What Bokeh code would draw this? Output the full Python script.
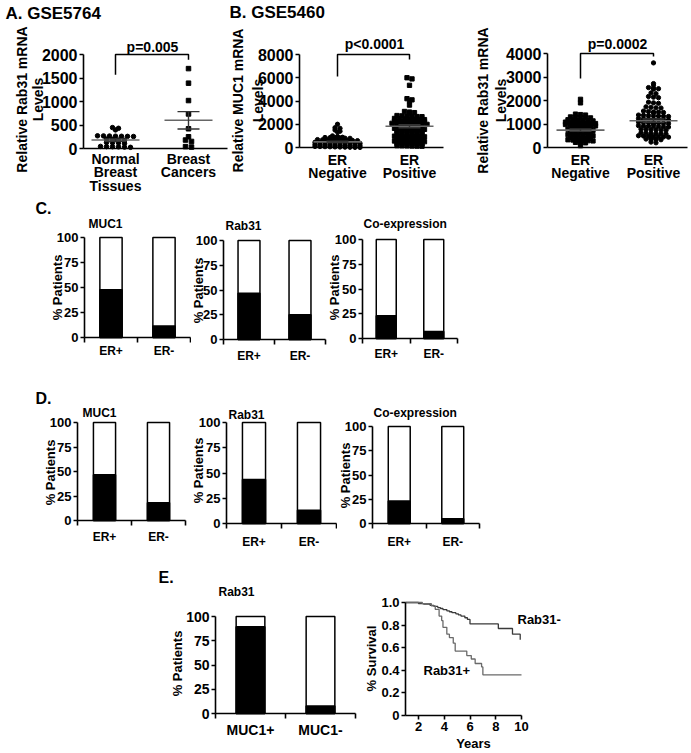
import numpy as np
from bokeh.plotting import figure
from bokeh.models import Range1d, FixedTicker, Label
from bokeh.layouts import row, column
from bokeh.embed import file_html
from bokeh.resources import INLINE

FONT = "Liberation Sans"

# ---------------- A. GSE5764 ----------------
a_title = "A.  GSE5764"
a_ylabel = ["Relative Rab31 mRNA", "Levels"]
a_categories = ["Normal\nBreast\nTissues", "Breast\nCancers"]
a_yticks = [0, 500, 1000, 1500, 2000]
a_normal = [445, 430, 396, 270, 268, 265, 262, 260, 258, 255, 200, 195, 180, 175,
            130, 125, 120, 110, 45, 40, 38, 35, 30, 25]
a_cancer = [1700, 1390, 1020, 735, 420, 250, 180, 150, 40, 30]
a_mean = [180, 600]
a_sem = [25, 185]
a_pvalue = "p=0.005"
a_bracket = [1570, 2000, 2000, 1890]

# ---------------- B. GSE5460 ----------------
b_title = "B.  GSE5460"
b_categories = ["ER\nNegative", "ER\nPositive"]
b1_ylabel = ["Relative MUC1 mRNA", "Levels"]
b1_yticks = [0, 2000, 4000, 6000, 8000]
b1_neg = [2000, 1700, 1650, 1500, 1400, 1330, 1000, 950, 880, 860, 850, 830, 820, 800, 790,
          680, 660, 650, 640, 630, 620, 610, 600, 590, 450, 440, 430, 420, 410, 400, 390,
          380, 370, 360, 250, 240, 230, 220, 210, 200, 190, 180, 170, 160, 90, 80, 70, 60,
          50, 40, 30, 20, 10, 5]
b1_pos = [6000, 5900, 5350, 4200, 4100, 4000, 3650, 3100, 3050, 3000, 2950,
          2750, 2720, 2700, 2680, 2660, 2650, 2500, 2480, 2460, 2450, 2440, 2420, 2400,
          2280, 2260, 2250, 2240, 2230, 2220, 2210, 2080, 2060, 2050, 2040, 2030, 2020, 2000, 1990,
          1880, 1860, 1850, 1840, 1830, 1820, 1650, 1630, 1620, 1600, 1590, 1580, 1560,
          1420, 1400, 1390, 1380, 1370, 1360, 1220, 1210, 1200, 1190, 1180, 1170,
          980, 970, 960, 950, 940, 930, 920, 780, 770, 760, 750, 740, 730,
          560, 550, 540, 530, 520, 510, 500, 360, 350, 340, 330, 320, 310,
          160, 150, 140, 130, 120, 110]
b1_mean = [480, 1830]
b1_sem = [60, 130]
b1_pvalue = "p<0.0001"
b1_bracket = [6100, 8000, 8000, 7570]

b2_ylabel = ["Relative Rab31 mRNA", "Levels"]
b2_yticks = [0, 1000, 2000, 3000, 4000]
b2_neg = [2050, 1900, 1420, 1400, 1380, 1300, 1290, 1280, 1270, 1260, 1180, 1170, 1160, 1150,
          1140, 1130, 1080, 1070, 1060, 1050, 1040, 1030, 1020, 980, 970, 960, 950, 940, 930,
          920, 870, 860, 850, 840, 830, 780, 770, 760, 750, 740, 730, 650, 640, 630, 620, 610,
          550, 540, 530, 520, 510, 500, 430, 420, 410, 400, 390, 330, 320, 310, 300, 290, 280,
          220, 210, 200, 80]
b2_pos = [3600, 2720, 2650, 2550, 2520, 2500, 2480, 2320, 2290, 2170, 2140, 2120, 1930, 1900,
          1880, 1730, 1710, 1690, 1680, 1550, 1530, 1510, 1500, 1490, 1480,
          1380, 1370, 1360, 1350, 1340, 1330, 1320, 1230, 1220, 1210, 1200, 1190, 1180, 1170, 1160,
          1080, 1070, 1060, 1050, 1040, 1030, 1020, 1010, 930, 920, 910, 900, 890, 880, 870,
          780, 770, 760, 750, 740, 730, 630, 620, 610, 600, 590, 580,
          500, 490, 480, 470, 460, 450, 440, 430, 370, 360, 350, 340, 330, 230, 200]
b2_mean = [740, 1140]
b2_sem = [50, 70]
b2_pvalue = "p=0.0002"
b2_bracket = [2940, 4000, 4000, 3870]

# ---------------- C, D: % patients ----------------
pct_yticks = [0, 25, 50, 75, 100]
pct_full = [100, 100]
er_categories = ["ER+", "ER-"]
panel_titles = ["MUC1", "Rab31", "Co-expression"]
c_values = [[47.7, 11.6], [46.8, 24.9], [22.9, 7.1]]
d_values = [[46.8, 18.1], [43.6, 13.2], [23.2, 4.8]]

# ---------------- E ----------------
e_title = "Rab31"
e_categories = ["MUC1+", "MUC1-"]
e_values = [89.5, 7.7]

km_xticks = [2, 4, 6, 8, 10]
km_yticks = [0, 0.2, 0.4, 0.6, 0.8, 1.0]
km_ytick_labels = {0: "0", 1.0: "1.0"}
km_neg_t = [1.0, 2.0, 2.4, 2.9, 3.2, 3.5, 3.7, 3.9, 4.2, 4.4, 4.6, 4.9, 5.1, 5.3, 5.6, 5.8,
            6.0, 8.2, 9.3, 9.9]
km_neg_s = [1.0, 0.99, 0.985, 0.975, 0.965, 0.955, 0.947, 0.937, 0.926, 0.918, 0.91, 0.90,
            0.89, 0.88, 0.865, 0.85, 0.81, 0.77, 0.72, 0.67]
km_pos_t = [1.0, 2.3, 3.0, 3.3, 3.6, 3.8, 3.9, 4.2, 4.4, 4.7, 4.85, 5.75, 6.1, 6.4, 6.9,
            7.0, 10.0]
km_pos_s = [1.0, 0.99, 0.97, 0.94, 0.88, 0.84, 0.78, 0.72, 0.69, 0.64, 0.57, 0.53, 0.50,
            0.46, 0.43, 0.36, 0.36]
km_labels = ["Rab31-", "Rab31+"]


class Panel:
    """A figure whose frame fills its whole canvas; axes sit at fixed locations.
    Positions are given in page pixels and converted to data units."""

    def __init__(self, canvas, xcal, ycal):
        cx0, cx1, cy0, cy1 = canvas
        (xv1, xr1), (xv2, xr2) = xcal
        (yv0, yr0), (yv1, yr1) = ycal
        self.sx = (xr2 - xr1) / (xv2 - xv1)
        self.xv1, self.xr1 = xv1, xr1
        self.sy = (yr0 - yr1) / (yv1 - yv0)
        self.yv0, self.yr0 = yv0, yr0
        x0, x1 = self.dx(cx0), self.dx(cx1)
        y0, y1 = self.dy(cy1), self.dy(cy0)
        p = figure(width=cx1 - cx0, height=cy1 - cy0, x_range=Range1d(x0, x1),
                   y_range=Range1d(y0, y1), output_backend="svg",
                   toolbar_location=None, min_border_left=0, min_border_right=0,
                   min_border_top=0, min_border_bottom=0)
        p.grid.visible = False
        p.outline_line_color = None
        p.background_fill_color = "white"
        p.border_fill_color = "white"
        self.p = p
        self.px_x = (cx1 - cx0) / (x1 - x0)
        self.px_y = (cy1 - cy0) / (y1 - y0)

    def dx(self, xref):
        return self.xv1 + (xref - self.xr1) / self.sx

    def dy(self, yref):
        return self.yv0 + (self.yr0 - yref) / self.sy

    def text(self, xref, yref, s, size, align="left", angle=0.0):
        self.p.add_layout(Label(x=self.dx(xref), y=self.dy(yref), text=s,
                                text_font=FONT, text_font_size=f"{size}px",
                                text_font_style="bold", text_color="black",
                                text_align=align, text_baseline="middle",
                                angle=angle))

    def axes(self, tick_size, yaxis_ref, xaxis_end_ref, yticks):
        p = self.p
        for ax in (p.xaxis[0], p.yaxis[0]):
            ax.axis_line_color = "black"
            ax.axis_line_width = 1.6
            ax.major_tick_line_color = "black"
            ax.major_tick_line_width = 1.6
            ax.major_tick_in = 0
            ax.major_tick_out = 4
            ax.minor_tick_line_color = None
            ax.major_label_text_font = FONT
            ax.major_label_text_font_style = "bold"
            ax.major_label_text_font_size = f"{tick_size}px"
            ax.major_label_text_color = "black"
            ax.major_label_standoff = 2
        xloc = self.dx(yaxis_ref)
        p.yaxis[0].fixed_location = xloc
        p.yaxis[0].ticker = FixedTicker(ticks=yticks)
        p.yaxis[0].bounds = (yticks[0], yticks[-1])
        p.xaxis[0].fixed_location = yticks[0]
        p.xaxis[0].bounds = (xloc, self.dx(xaxis_end_ref))


def swarm(vals, center, pan, row_px=1.6, dx_px=5.2):
    vals = sorted(vals, reverse=True)
    rows, cur = [], []
    for v in vals:
        if cur and (cur[0] - v) * pan.px_y > row_px:
            rows.append(cur)
            cur = []
        cur.append(v)
    if cur:
        rows.append(cur)
    xs, ys = [], []
    for r in rows:
        k = len(r)
        for i, v in enumerate(r):
            xs.append(center + (i - (k - 1) / 2) * dx_px / pan.px_x)
            ys.append(v)
    return xs, ys


def scatter_panel(pan, axis_x, groups, markers, mean, sem, cats, yticks, bracket, pval,
                  pval_ref, ylabels, ylab_x, ylab_y, cat_standoff, dx_px, msize):
    p = pan.p
    pan.axes(16, axis_x[0], axis_x[1], yticks)
    xa = p.xaxis[0]
    pos = [1, 2]
    xa.ticker = FixedTicker(ticks=pos)
    xa.major_tick_out = 0
    xa.major_label_overrides = {pos[i]: cats[i] for i in range(2)}
    xa.major_label_text_font_size = "14px"
    xa.major_label_text_line_height = 0.86
    xa.major_label_standoff = cat_standoff
    for i, (vals, mk) in enumerate(zip(groups, markers)):
        xs, ys = swarm(vals, pos[i], pan, dx_px=dx_px)
        p.scatter(xs, ys, marker=mk, size=msize, fill_color="black", line_color="black")
    half = 24 / pan.px_x
    cap = 11 / pan.px_x
    p.segment(x0=[x - half for x in pos], x1=[x + half for x in pos], y0=mean, y1=mean,
              line_color="#666666", line_width=1.6)
    lo = [m - s for m, s in zip(mean, sem)]
    hi = [m + s for m, s in zip(mean, sem)]
    p.segment(x0=pos, x1=pos, y0=lo, y1=hi, line_color="#333333", line_width=1.4)
    p.segment(x0=[x - cap for x in pos], x1=[x + cap for x in pos], y0=lo, y1=lo,
              line_color="#333333", line_width=1.4)
    p.segment(x0=[x - cap for x in pos], x1=[x + cap for x in pos], y0=hi, y1=hi,
              line_color="#333333", line_width=1.4)
    p.line([pos[0], pos[0], pos[1], pos[1]], bracket, line_color="black", line_width=1.5)
    pan.text(pval_ref[0], pval_ref[1], pval, 14, align="center")
    for s, xr in zip(ylabels, ylab_x):
        pan.text(xr, ylab_y, s, 14, align="center", angle=np.pi / 2)


def bar_panel(pan, axis_x, values, cats, title, title_ref, tick_size, cat_size, cat_standoff,
              ylab_ref, width):
    p = pan.p
    pan.axes(tick_size, axis_x[0], axis_x[1], pct_yticks)
    xa = p.xaxis[0]
    pos = [0.5, 1.5]
    xa.ticker = FixedTicker(ticks=pos, minor_ticks=[0, 1, 2])
    xa.major_tick_out = 0
    xa.minor_tick_line_color = "black"
    xa.minor_tick_line_width = 1.6
    xa.minor_tick_out = 5
    xa.minor_tick_in = 0
    xa.major_label_overrides = {pos[i]: cats[i] for i in range(2)}
    xa.major_label_text_font_size = f"{cat_size}px"
    xa.major_label_standoff = cat_standoff
    p.vbar(x=pos, top=pct_full, width=width, fill_color="white", line_color="black",
           line_width=1.5)
    p.vbar(x=pos, top=values, width=width, fill_color="black", line_color="black",
           line_width=1.5)
    pan.text(title_ref[0], title_ref[1], title, 12)
    pan.text(ylab_ref[0], ylab_ref[1], "% Patients", 13, align="center", angle=np.pi / 2)


# ---------------- Row 1 ----------------
R1 = (0, 198)
A = Panel((0, 228, *R1), ((1, 115), (2, 188)), ((0, 148), (2000, 54)))
scatter_panel(A, (83, 227), [a_normal, a_cancer], ["circle", "square"], a_mean, a_sem,
              a_categories, a_yticks, a_bracket, a_pvalue, (152, 46), a_ylabel, [21, 37], 99,
              2, 6.0, 4.5)
A.text(5, 13, a_title, 17)

B1 = Panel((228, 472, *R1), ((1, 337), (2, 409)), ((0, 147), (8000, 54)))
scatter_panel(B1, (299, 443), [b1_neg, b1_pos], ["circle", "square"], b1_mean, b1_sem,
              b_categories, b1_yticks, b1_bracket, b1_pvalue, (374, 43), b1_ylabel, [237, 257],
              100, 4, 5.0, 4.3)
B1.text(229, 12, b_title, 17)

B2 = Panel((472, 690, *R1), ((1, 580), (2, 653)), ((0, 147), (4000, 53)))
scatter_panel(B2, (547, 687), [b2_neg, b2_pos], ["square", "circle"], b2_mean, b2_sem,
              b_categories, b2_yticks, b2_bracket, b2_pvalue, (617, 43), b2_ylabel, [482, 500],
              100, 4, 5.0, 4.3)

# ---------------- Row 2 (C) ----------------
R2 = (198, 372)
C1 = Panel((0, 191, *R2), ((0, 84), (2, 190)), ((0, 337), (100, 237)))
bar_panel(C1, (84, 190), c_values[0], er_categories, panel_titles[0], (88, 223), 13, 12, 1,
          (57, 287), 0.42)
C1.text(35, 208, "C.", 16)
C2 = Panel((191, 327, *R2), ((0, 223), (2, 325)), ((0, 339), (100, 240)))
bar_panel(C2, (223, 325), c_values[1], er_categories, panel_titles[1], (225, 225), 13, 12, 4,
          (198, 290), 0.43)
C3 = Panel((327, 690, *R2), ((0, 362), (2, 457)), ((0, 338), (100, 239)))
bar_panel(C3, (362, 457), c_values[2], er_categories, panel_titles[2], (363, 223), 13, 12, 3,
          (334, 287), 0.42)

# ---------------- Row 3 (D) ----------------
R3 = (372, 560)
D1 = Panel((0, 190, *R3), ((0, 77), (2, 185)), ((0, 520), (100, 422)))
bar_panel(D1, (77, 185), d_values[0], er_categories, panel_titles[0], (82, 412), 13, 12, 4,
          (50, 472), 0.41)
D1.text(35, 398, "D.", 16)
D2 = Panel((190, 337, *R3), ((0, 226), (2, 336)), ((0, 523), (100, 422)))
bar_panel(D2, (226, 336), d_values[1], er_categories, panel_titles[1], (228, 414), 13, 12, 6,
          (198, 470), 0.42)
D3 = Panel((337, 690, *R3), ((0, 372), (2, 479)), ((0, 523), (100, 426)))
bar_panel(D3, (372, 479), d_values[2], er_categories, panel_titles[2], (373, 412), 13, 12, 6,
          (345, 475), 0.41)

# ---------------- Row 4 (E) ----------------
R4 = (560, 752)
E1 = Panel((0, 362, *R4), ((0, 215), (2, 355)), ((0, 713), (100, 616)))
bar_panel(E1, (215, 355), e_values, e_categories, e_title, (218, 591), 14, 14, 3, (177, 663),
          0.41)
E1.text(158, 577, "E.", 16)

E2 = Panel((362, 690, *R4), ((2, 418), (10, 521)), ((0, 715), (1.0, 602)))
E2.axes(13, 405, 521, km_yticks)
k = E2.p
k.xaxis[0].ticker = FixedTicker(ticks=km_xticks)
k.yaxis[0].major_label_overrides = km_ytick_labels
k.step(km_neg_t, km_neg_s, mode="after", line_color="#3a3a3a", line_width=1.3)
k.step(km_pos_t, km_pos_s, mode="after", line_color="#6a6a6a", line_width=1.3)
E2.text(517, 619, km_labels[0], 13)
E2.text(423, 670, km_labels[1], 13)
E2.text(371, 658, "% Survival", 13, align="center", angle=np.pi / 2)
E2.text(473, 743, "Years", 13, align="center")

layout = column(row(A.p, B1.p, B2.p), row(C1.p, C2.p, C3.p), row(D1.p, D2.p, D3.p),
                row(E1.p, E2.p))

open("out.html", "w").write(file_html(layout, INLINE))
